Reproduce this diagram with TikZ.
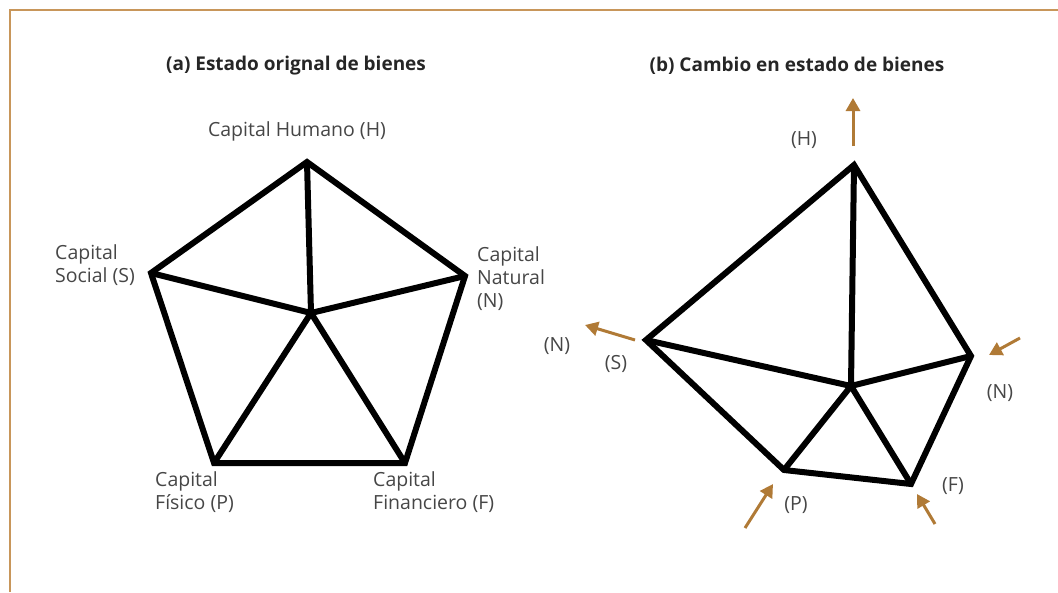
\documentclass[tikz,border=0pt]{standalone}
\usepackage{fontspec}
\setmainfont{Open Sans}
\usetikzlibrary{arrows.meta}
\definecolor{frameline}{RGB}{200,150,90}
\definecolor{shiftarrow}{RGB}{176,122,54}
\definecolor{labelgray}{RGB}{70,70,70}

\begin{document}
\begin{tikzpicture}[
    x=1pt, y=-1pt,
    edge/.style={line width=6pt},
    shiftarr/.style={draw=shiftarrow, line width=3pt,
                     -{Triangle[length=13pt, width=14pt]}},
    lab/.style={text=labelgray, font=\fontsize{19.5}{23}\selectfont,
                inner sep=0pt, align=left},
    heading/.style={text=black!85, font=\bfseries\fontsize{19}{23}\selectfont}
  ]
  \useasboundingbox (0,0) rectangle (1058,592);
  \draw[frameline, line width=1.5pt] (10,592) -- (10,10) -- (1058,10);

  % (a) original state
  \node[heading] (ta) at (296,66) {(a) Estado orignal de bienes};
  \coordinate (aH) at (307,162);
  \coordinate (aN) at (465,276);
  \coordinate (aF) at (405,463);
  \coordinate (aP) at (214,463);
  \coordinate (aS) at (151,273);
  \coordinate (aC) at (311,313);
  \draw[edge] (aH) -- (aN) -- (aF) -- (aP) -- (aS) -- cycle;
  \draw[edge] (aH) -- (aC) (aN) -- (aC) (aS) -- (aC)
              (aP) -- (aC) -- (aF);
  \node[lab] (lH) at (297,131) {Capital Humano (H)};
  \node[lab, anchor=west] (lS) at (55,265) {Capital\\Social (S)};
  \node[lab, anchor=west] (lN) at (477,279) {Capital\\Natural\\(N)};
  \node[lab, anchor=west] (lP) at (155,492) {Capital\\Físico (P)};
  \node[lab, anchor=west] (lF) at (373,492) {Capital\\Financiero (F)};

  % (b) changed state
  \node[heading] (tb) at (797,66) {(b) Cambio en estado de bienes};
  \coordinate (bH) at (854,165);
  \coordinate (bN) at (971,356);
  \coordinate (bF) at (911,484);
  \coordinate (bP) at (784,470);
  \coordinate (bS) at (646,340);
  \coordinate (bC) at (851,386);
  \draw[edge] (bH) -- (bN) -- (bF) -- (bP) -- (bS) -- cycle;
  \draw[edge] (bH) -- (bC) (bN) -- (bC) (bS) -- (bC)
              (bP) -- (bC) -- (bF);
  \node[lab] (mH) at (804,140) {(H)};
  \node[lab] (mS) at (616,364) {(S)};
  \node[lab] (mX) at (557,346) {(N)};
  \node[lab] (mN) at (1000,393) {(N)};
  \node[lab] (mP) at (796,505) {(P)};
  \node[lab] (mF) at (953,486) {(F)};

  % shifts
  \coordinate (sH0) at (853,146);  \coordinate (sH1) at (853,98);
  \coordinate (sS0) at (635,340);  \coordinate (sS1) at (585,325);
  \coordinate (sN0) at (1020,338); \coordinate (sN1) at (989,355);
  \coordinate (sP0) at (745,528);  \coordinate (sP1) at (773,484);
  \coordinate (sF0) at (935,524);  \coordinate (sF1) at (917,494);
  \foreach \s in {H,S,N,P,F}
    \draw[shiftarr] (s\s0) -- (s\s1);
\end{tikzpicture}
\end{document}
